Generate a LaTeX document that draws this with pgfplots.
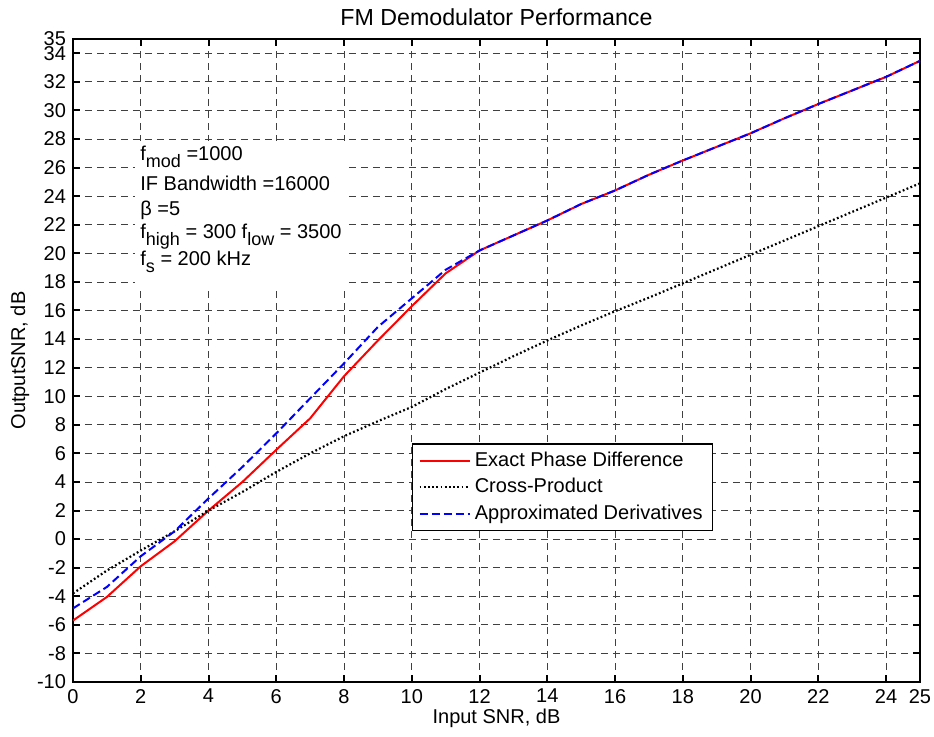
\documentclass[border=0pt]{standalone}
\usepackage{fontspec}
\setmainfont{Liberation Sans}
\usepackage{pgfplots}
\pgfplotsset{compat=1.18}
\newcommand{\sub}[1]{\smash{\raisebox{-3.5pt}{\fontsize{9}{10}\selectfont #1}}}
\begin{document}
\begin{tikzpicture}
\useasboundingbox (-36.5pt,-27.5pt) rectangle (430.5pt,341pt);
\begin{axis}[
  at={(0,0)}, anchor=south west,
  scale only axis, width=423.5pt, height=321.5pt,
  xmin=0, xmax=25, ymin=-10, ymax=35,
  xtick={0,2,...,24,25},
  ytick={-10,-8,...,34,35},
  tick align=inside, major tick length=3.5pt,
  tick style={black, line width=1pt},
  axis line style={black, line width=1pt},
  grid=major,
  major grid style={black!75, line width=0.4pt, dash pattern=on 3.5pt off 2.5pt},
  /pgf/number format/assume math mode=true,
  tick label style={font=\fontsize{10}{12}\selectfont},
  label style={font=\fontsize{10}{12}\selectfont},
  title={FM Demodulator Performance},
  title style={font=\fontsize{11.6}{13}\selectfont, at={(axis description cs:0.5,1)}, anchor=center, yshift=5pt},
  xlabel={Input SNR, dB},
  xlabel style={at={(axis description cs:0.5,0)}, anchor=center, yshift=-18pt},
  ylabel={OutputSNR, dB},
  ylabel style={at={(axis description cs:0,0.5)}, anchor=center, yshift=26.5pt},
  legend style={at={(axis cs:10,6.72)}, anchor=north west, draw=black, line width=0.8pt,
    font=\fontsize{10}{12}\selectfont, inner xsep=3pt, inner ysep=2pt,
    row sep=0.5pt, cells={anchor=west}},
  legend image code/.code={\draw[#1] plot coordinates {(0pt,0pt) (25pt,0pt)};},
]
\addplot[red, line width=1pt] coordinates {
 (0,-5.7) (1,-4.05) (2,-1.9) (3,-0.15) (4,2.0) (5,4.0) (6,6.25) (7,8.45) (8,11.4)
 (9,13.9) (10,16.3) (11,18.6) (12,20.2) (13,21.25) (14,22.3) (15,23.45) (16,24.4)
 (17,25.5) (18,26.5) (19,27.45) (20,28.4) (21,29.45) (22,30.45) (23,31.4) (24,32.35) (25,33.47)};
\addlegendentry{Exact Phase Difference}
\addplot[black, line width=1.1pt, dash pattern=on 0.9pt off 1.2pt] coordinates {
 (0,-3.8) (1,-2.2) (2,-0.8) (3,0.55) (4,2.0) (5,3.3) (6,4.7) (7,6.0) (8,7.2) (9,8.25)
 (10,9.25) (11,10.5) (12,11.65) (13,12.8) (14,13.9) (15,14.95) (16,15.95) (17,16.9)
 (18,17.9) (19,18.9) (20,19.9) (21,20.9) (22,21.9) (23,22.9) (24,23.9) (25,24.9)};
\addlegendentry{Cross-Product}
\addplot[blue, line width=1pt, dash pattern=on 4pt off 2pt] coordinates {
 (0,-4.85) (1,-3.35) (2,-1.2) (3,0.55) (4,2.85) (5,5.05) (6,7.4) (7,9.85) (8,12.3)
 (9,14.85) (10,16.85) (11,18.85) (12,20.2) (13,21.25) (14,22.3) (15,23.45) (16,24.4)
 (17,25.5) (18,26.5) (19,27.45) (20,28.4) (21,29.45) (22,30.45) (23,31.4) (24,32.35) (25,33.47)};
\addlegendentry{Approximated Derivatives}
\node[anchor=north west, fill=white, inner sep=2.5pt, align=left,
  font=\fontsize{10}{12.5}\selectfont] at (axis cs:1.83,27.9)
  {f\sub{mod} =1000\\[2.5pt]
   IF Bandwidth =16000\\[0pt]
   β =5\\[-1pt]
   f\sub{high} = 300 f\sub{low} = 3500\\[1pt]
   f\sub{s} = 200 kHz\\[-4pt]\mbox{}};
\end{axis}
\end{tikzpicture}
\end{document}
